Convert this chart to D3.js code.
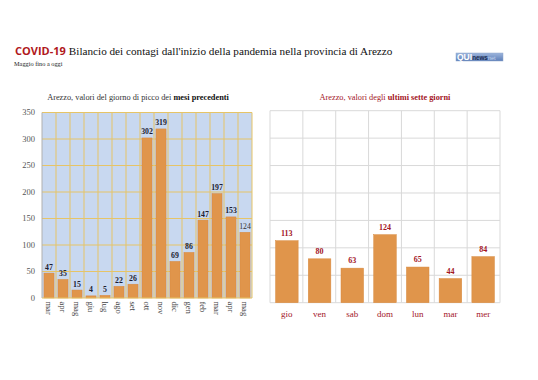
<!DOCTYPE html>
<html><head><meta charset="utf-8">
<script src="https://cdn.jsdelivr.net/npm/d3@7"></script>
<style>html,body{margin:0;padding:0;background:#fff;}svg{display:block;}</style>
</head><body>
<svg id="c" width="538" height="380"></svg>
<script>
const monthLabels = ["mar","apr","mag","giu","lug","ago","set","ott","nov","dic","gen","feb","mar","apr","mag"];
const monthValues = [47,35,15,4,5,22,26,302,319,69,86,147,197,153,124];
const dayLabels = ["gio","ven","sab","dom","lun","mar","mer"];
const dayValues = [113,80,63,124,65,44,84];
const yTicks = [0,50,100,150,200,250,300,350];

const svg = d3.select("#c");
const serif = "'Liberation Serif', 'DejaVu Serif', serif";
const orange = "#e0954b";
const red = "#a3151f";

// Header
const head = svg.append("text").attr("x",15).attr("y",54.5);
head.append("tspan").attr("font-family","'Open Sans', sans-serif").attr("font-weight","bold")
  .attr("fill","#b01820").attr("font-size",11).text("COVID-19");
head.append("tspan").attr("dx",3).attr("font-family",serif).attr("fill","#111").attr("font-size",11.2)
  .text("Bilancio dei contagi dall'inizio della pandemia nella provincia di Arezzo");
svg.append("text").attr("x",14).attr("y",65.5).attr("font-family",serif).attr("font-size",6.3).attr("fill","#222").text("Maggio fino a oggi");

// Logo
const lg = svg.append("g");
const grad = svg.append("defs").append("linearGradient").attr("id","lgG").attr("x1",0).attr("y1",0).attr("x2",0).attr("y2",1);
grad.append("stop").attr("offset","0%").attr("stop-color","#9db5dc");
grad.append("stop").attr("offset","100%").attr("stop-color","#5d7fb8");
lg.append("rect").attr("x",456).attr("y",53).attr("width",47).attr("height",8).attr("fill","url(#lgG)").attr("stroke","#8fa6cc").attr("stroke-width",0.5);
const lt = lg.append("text").attr("x",457).attr("y",60.3).attr("font-family","'Liberation Sans', sans-serif").attr("font-weight","bold");
lt.append("tspan").attr("font-size",8.5).attr("fill","#fff").text("QUI");
lt.append("tspan").attr("font-size",6.3).attr("fill","#1c2d52").text("news");
lt.append("tspan").attr("font-size",5.5).attr("fill","#c9d6ee").attr("font-weight","normal").text("net");

// Left chart
const L = {x0:42, x1:252, y0:298, y1:112.5};
const xL = d3.scaleBand().domain(d3.range(monthValues.length)).range([L.x0,L.x1]).paddingInner(0.28).paddingOuter(0.14);
const yL = d3.scaleLinear().domain([0,350]).range([L.y0,L.y1]);
const gL = svg.append("g");
gL.append("rect").attr("x",L.x0).attr("y",L.y1).attr("width",L.x1-L.x0).attr("height",L.y0-L.y1).attr("fill","#c8d8f0");
const step = (L.x1-L.x0)/monthValues.length;
gL.selectAll("line.v").data(d3.range(monthValues.length+1).slice(1)).join("line")
  .attr("x1",i=>L.x0+i*step).attr("x2",i=>L.x0+i*step).attr("y1",L.y1).attr("y2",L.y0)
  .attr("stroke","#e6c467").attr("stroke-width",1);
gL.selectAll("line.h").data(yTicks.slice(1)).join("line")
  .attr("x1",L.x0).attr("x2",L.x1).attr("y1",d=>yL(d)).attr("y2",d=>yL(d))
  .attr("stroke","#e6c467").attr("stroke-width",1);
gL.selectAll("rect.bar").data(monthValues).join("rect")
  .attr("x",(d,i)=>xL(i)).attr("width",xL.bandwidth()).attr("y",d=>yL(d)).attr("height",d=>yL(0)-yL(d))
  .attr("fill",orange).attr("stroke","#d8893e").attr("stroke-width",0.5);
gL.append("line").attr("x1",L.x0).attr("x2",L.x0).attr("y1",L.y1).attr("y2",L.y0).attr("stroke","#b0b0b0");
gL.append("line").attr("x1",L.x0).attr("x2",L.x1).attr("y1",L.y0).attr("y2",L.y0).attr("stroke","#e6c467");
gL.selectAll("text.yt").data(yTicks).join("text")
  .attr("x",35).attr("y",d=>yL(d)).attr("dy","0.35em").attr("text-anchor","end")
  .attr("font-family",serif).attr("font-size",8.5).attr("fill","#555").text(d=>d);
gL.selectAll("text.val").data(monthValues).join("text")
  .attr("x",(d,i)=>xL(i)+xL.bandwidth()/2).attr("y",d=>yL(d)-3.5).attr("text-anchor","middle")
  .attr("font-family",serif).attr("font-size",7.8)
  .attr("font-weight",(d,i)=>i===monthValues.length-1?"normal":"bold")
  .attr("fill",(d,i)=>i===monthValues.length-1?"#333":"#1c1c30").text(d=>d);
gL.selectAll("text.xl").data(monthLabels).join("text")
  .attr("transform",(d,i)=>`translate(${xL(i)+xL.bandwidth()/2},${L.y0+3.5}) rotate(90)`)
  .attr("dy","0.35em").attr("text-anchor","start")
  .attr("font-family",serif).attr("font-size",8.5).attr("fill","#444").text(d=>d);
const tl = svg.append("text").attr("x",138).attr("y",100).attr("text-anchor","middle").attr("font-family",serif).attr("font-size",8.3).attr("fill","#333");
tl.append("tspan").text("Arezzo, valori del giorno di picco dei ");
tl.append("tspan").attr("font-weight","bold").attr("fill","#111").text("mesi precedenti");

// Right chart
const R = {x0:270, x1:500, y0:302.7, y1:110.7};
const xR = d3.scaleBand().domain(d3.range(dayValues.length)).range([R.x0,R.x1]).paddingInner(0.31).paddingOuter(0.17);
const yR = d3.scaleLinear().domain([0,350]).range([R.y0,R.y1]);
const gR = svg.append("g");
const stepR = (R.x1-R.x0)/dayValues.length;
gR.selectAll("line.v").data(d3.range(dayValues.length+1)).join("line")
  .attr("x1",i=>R.x0+i*stepR).attr("x2",i=>R.x0+i*stepR).attr("y1",R.y1).attr("y2",R.y0)
  .attr("stroke","#d9d9d9").attr("stroke-width",1);
gR.selectAll("line.h").data(yTicks).join("line")
  .attr("x1",R.x0).attr("x2",R.x1).attr("y1",d=>yR(d)).attr("y2",d=>yR(d))
  .attr("stroke","#d9d9d9").attr("stroke-width",1);
gR.selectAll("rect.bar").data(dayValues).join("rect")
  .attr("x",(d,i)=>xR(i)).attr("width",xR.bandwidth()).attr("y",d=>yR(d)).attr("height",d=>yR(0)-yR(d))
  .attr("fill",orange).attr("stroke","#d8893e").attr("stroke-width",0.5);
gR.selectAll("text.val").data(dayValues).join("text")
  .attr("x",(d,i)=>xR(i)+xR.bandwidth()/2).attr("y",d=>yR(d)-5).attr("text-anchor","middle")
  .attr("font-family",serif).attr("font-size",8).attr("font-weight","bold").attr("fill",red).text(d=>d);
gR.selectAll("text.xl").data(dayLabels).join("text")
  .attr("x",(d,i)=>xR(i)+xR.bandwidth()/2).attr("y",317).attr("text-anchor","middle")
  .attr("font-family",serif).attr("font-size",9).attr("fill",red).text(d=>d);
const tr = svg.append("text").attr("x",385).attr("y",100).attr("text-anchor","middle").attr("font-family",serif).attr("font-size",8.3).attr("fill",red);
tr.append("tspan").text("Arezzo, valori degli ");
tr.append("tspan").attr("font-weight","bold").text("ultimi sette giorni");
</script>
</body></html>
